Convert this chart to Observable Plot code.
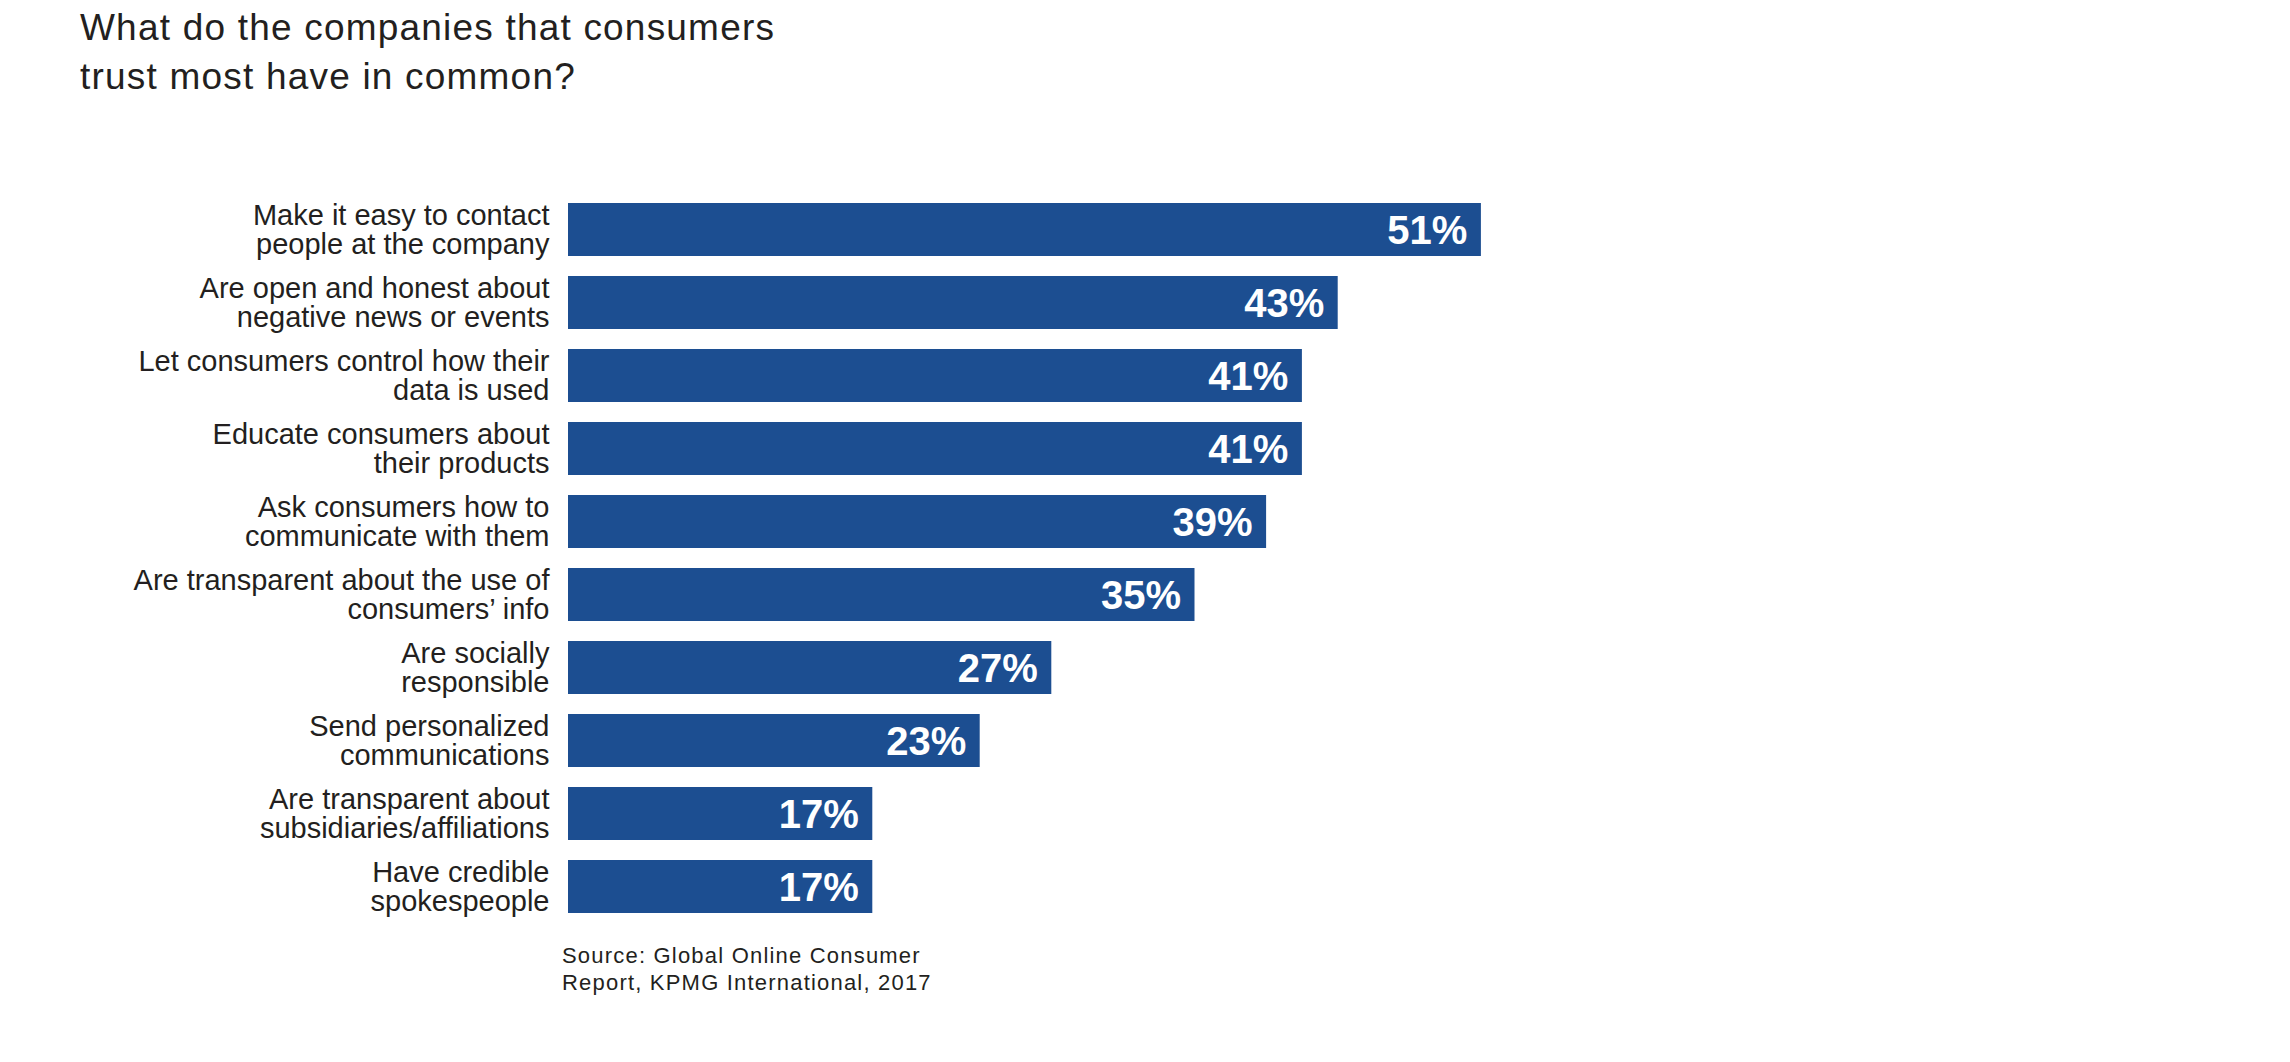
<!DOCTYPE html>
<html>
<head>
<meta charset="utf-8">
<script src="https://cdn.jsdelivr.net/npm/d3@7"></script>
<script src="https://cdn.jsdelivr.net/npm/@observablehq/plot@0.6"></script>
<style>
  html, body { margin: 0; padding: 0; background: #ffffff; }
  body { width: 2290px; font-family: "Liberation Sans", Arial, Helvetica, sans-serif; color: #231f20; }
  #title { box-sizing: border-box; height: 110px; padding: 3px 0 0 80px; font-size: 37px; line-height: 49px; letter-spacing: 1.2px; font-weight: 400; }
  #chart svg { display: block; }
  #source { margin: 2px 0 0 562px; font-size: 22px; line-height: 27px; letter-spacing: 1.2px; }
</style>
</head>
<body>
<div id="title">What do the companies that consumers<br>trust most have in common?</div>
<div id="chart"></div>
<div id="source">Source: Global Online Consumer<br>Report, KPMG International, 2017</div>
<script>
const categories = [
  "Make it easy to contact\npeople at the company",
  "Are open and honest about\nnegative news or events",
  "Let consumers control how their\ndata is used",
  "Educate consumers about\ntheir products",
  "Ask consumers how to\ncommunicate with them",
  "Are transparent about the use of\nconsumers\u2019 info",
  "Are socially\nresponsible",
  "Send personalized\ncommunications",
  "Are transparent about\nsubsidiaries/affiliations",
  "Have credible\nspokespeople"
];
const values = [51, 43, 41, 41, 39, 35, 27, 23, 17, 17];

const data = categories.map((c, i) => ({category: c, value: values[i]}));

const chart = Plot.plot({
  width: 2290,
  height: 830,
  marginLeft: 568,
  marginRight: 648,
  marginTop: 73,
  marginBottom: 7,
  style: {fontFamily: "'Liberation Sans', Arial, Helvetica, sans-serif", background: "#ffffff"},
  x: {domain: [0, 60], axis: null},
  y: {domain: categories, axis: null, padding: 0.274, round: false},
  marks: [
    Plot.barX(data, {x: "value", y: "category", fill: "#1c4e91"}),
    Plot.text(data, {
      x: 0, y: "category", text: "category",
      textAnchor: "end", dx: -19, dy: 0,
      lineHeight: 1.0, fontSize: 29, fill: "#231f20",
      ariaLabel: "category-labels"
    }),
    Plot.text(data, {
      x: "value", y: "category", text: d => d.value + "%",
      textAnchor: "end", dx: -14, dy: 1.5,
      fontSize: 40, fontWeight: "bold", fill: "#ffffff",
      ariaLabel: "value-labels"
    })
  ]
});
document.getElementById("chart").appendChild(chart);
d3.select(chart).selectAll('g[aria-label="category-labels"] text').style("letter-spacing", "0.5px");
</script>
</body>
</html>
